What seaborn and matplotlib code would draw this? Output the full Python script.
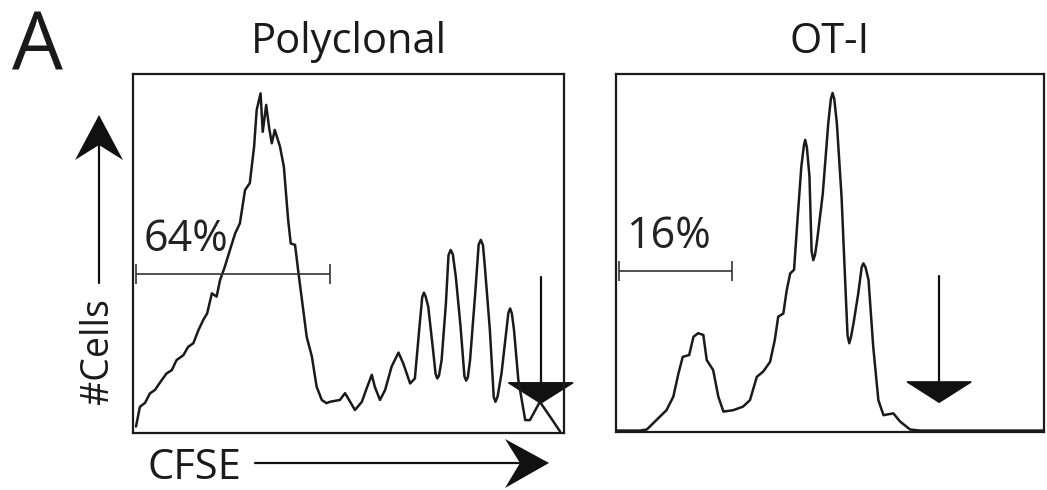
import pandas as pd
import seaborn as sns
import matplotlib.pyplot as plt
from matplotlib.patches import Polygon

# CFSE histograms (x = channel 0-100, y = relative count 0-100)
poly_x = [0.7, 1.6, 2.8, 3.9, 5.1, 6.7, 7.8, 9.0, 10.1, 11.7, 12.8, 14.0, 15.2, 16.3,
          17.2, 18.3, 19.4, 20.2, 21.3, 22.5, 23.7, 24.8, 26.0, 27.1, 28.1, 28.7, 29.6,
          30.1, 30.9, 31.6, 32.2, 32.9, 34.1, 35.0, 36.0, 36.6, 37.6, 38.4, 39.1, 40.3,
          41.5, 42.6, 43.8, 44.9, 45.7, 48.0, 49.2, 51.5, 53.1, 54.2, 55.4, 56.1, 57.3,
          58.5, 60.0, 61.6, 62.7, 64.3, 65.4, 66.4, 67.1, 67.5, 67.9, 68.5, 69.7, 70.2,
          70.6, 71.0, 71.6, 72.6, 73.2, 73.7, 74.2, 74.9, 76.0, 76.9, 77.3, 77.7, 78.2,
          79.4, 80.2, 80.7, 81.2, 81.7, 82.8, 83.7, 84.1, 84.6, 85.5, 87.1, 87.5, 87.9,
          88.4, 89.4, 91.0, 92.1, 94.4, 96.8, 99.1]
poly_y = [1.8, 7.3, 8.4, 11.0, 12.0, 14.8, 16.6, 17.5, 20.3, 21.7, 24.0, 25.0, 28.7, 31.5,
          33.3, 38.9, 38.0, 42.6, 46.3, 51.0, 55.6, 58.4, 67.7, 69.6, 79.8, 90.0, 94.6,
          83.9, 91.4, 84.9, 80.7, 84.4, 79.8, 74.2, 59.3, 52.8, 52.4, 44.5, 38.0, 26.8,
          21.3, 12.9, 9.2, 8.3, 8.7, 9.2, 11.1, 6.4, 8.7, 12.4, 16.2, 12.9, 9.2,
          12.0, 18.5, 22.4, 19.4, 13.8, 15.2, 28.7, 37.8, 39.1, 38.0, 35.2, 22.2, 16.5,
          15.2, 16.0, 20.3, 36.1, 49.5, 51.0, 49.8, 43.5, 29.6, 15.8, 14.6, 15.6, 20.3,
          38.9, 52.5, 53.8, 52.3, 45.4, 28.7, 10.0, 8.7, 10.2, 16.6, 33.5, 34.7, 33.3,
          28.7, 14.8, 3.6, 3.6, 8.7, 4.5, 0.4]

ot1_x = [0.0, 5.6, 7.2, 9.5, 11.8, 13.4, 14.6, 15.6, 17.1, 18.1, 19.2, 20.4, 21.2, 22.7,
         23.9, 25.1, 27.4, 29.7, 31.3, 32.9, 34.4, 36.0, 37.1, 37.9, 39.1, 39.9, 40.7,
         41.6, 42.4, 43.3, 43.9, 44.2, 44.6, 45.2, 45.7, 46.1, 46.5, 47.0, 48.3, 49.6,
         50.2, 50.6, 51.0, 51.6, 52.7, 53.7, 54.1, 54.5, 54.9, 55.5, 56.6, 57.4, 57.8,
         58.3, 59.0, 60.1, 61.3, 62.5, 64.8, 66.4, 68.7, 71.0, 100.0]
ot1_y = [0.4, 0.4, 0.7, 3.4, 6.1, 9.9, 16.4, 21.0, 21.5, 26.6, 27.6, 27.1, 20.1, 17.3,
         9.9, 5.7, 6.1, 7.1, 8.9, 15.4, 16.9, 19.6, 25.7, 32.2, 33.1, 39.7, 44.3,
         45.3, 59.2, 74.1, 80.0, 81.6, 79.5, 71.4, 50.5, 48.0, 49.5, 53.6, 66.4, 86.3,
         93.0, 94.7, 93.0, 86.3, 65.7, 37.8, 27.0, 24.8, 26.5, 30.4, 38.7, 46.0, 47.1,
         46.0, 42.5, 23.8, 8.9, 4.7, 5.2, 2.9, 0.7, 0.4, 0.4]

titles = ["Polyclonal", "OT-I"]
gate_labels = ["64%", "16%"]
gate_start = [0.8, 0.8]
gate_end = [45.6, 27.2]
gate_level = [44.4, 45.0]
marker_x = [94.6, 75.5]

sns.set_style("white")
plt.rcParams['font.family'] = ['Open Sans', 'DejaVu Sans']

W, H = 1047, 490
fig = plt.figure(figsize=(W / 100, H / 100), dpi=100)
ax1 = fig.add_axes([133 / W, 1 - 433 / H, 431 / W, 359 / H])
ax2 = fig.add_axes([616 / W, 1 - 432 / H, 428 / W, 358 / H])

curves = [pd.DataFrame({"CFSE": poly_x, "count": poly_y}),
          pd.DataFrame({"CFSE": ot1_x, "count": ot1_y})]

for i, ax in enumerate([ax1, ax2]):
    sns.lineplot(data=curves[i], x="CFSE", y="count", ax=ax, color="#1a1a1a",
                 linewidth=1.8, sort=False)
    ax.set_xlim(0, 100)
    ax.set_ylim(0, 100)
    ax.set_xticks([])
    ax.set_yticks([])
    ax.set_xlabel("")
    ax.set_ylabel("")
    for s in ax.spines.values():
        s.set_visible(True)
        s.set_color("#1a1a1a")
        s.set_linewidth(1.6)
    ax.set_title(titles[i], fontsize=30, pad=15, color="#1a1a1a")

    # gate bar
    ax.errorbar([(gate_start[i] + gate_end[i]) / 2], [gate_level[i]],
                xerr=[(gate_end[i] - gate_start[i]) / 2], color="#333333",
                elinewidth=1.2, capsize=7, capthick=1.2, fmt="none")
    ax.text(gate_start[i] + 1.6, gate_level[i] + 6.3, gate_labels[i], fontsize=31,
            color="#222222", ha="left", va="baseline")

    # downward marker arrow
    mx = marker_x[i]
    ax.plot([mx, mx], [43.5, 14.0], color="#111111", linewidth=1.6)
    tri = Polygon([[mx - 7.5, 14.0], [mx + 7.5, 14.0], [mx, 8.3]], closed=True,
                  facecolor="#111111", edgecolor="#111111", clip_on=False)
    ax.add_patch(tri)


def px(x, y):
    return (x / W, 1 - y / H)


# axis arrows outside the panels (swept arrowheads)
fig.add_artist(plt.Line2D([99 / W, 99 / W], [1 - 283 / H, 1 - 145 / H],
                          color="#111111", linewidth=1.6))
fig.add_artist(Polygon([px(99, 115), px(123, 160), px(99, 145), px(75, 160)],
                       closed=True, transform=fig.transFigure,
                       facecolor="#111111", edgecolor="none"))
fig.text(98 / W, 1 - 351 / H, "#Cells", rotation=90, fontsize=27, ha="center",
         va="center", color="#1a1a1a")

fig.add_artist(plt.Line2D([255 / W, 522 / W], [1 - 463 / H, 1 - 463 / H],
                          color="#111111", linewidth=1.6))
fig.add_artist(Polygon([px(549, 463), px(505, 439), px(520, 463), px(505, 488)],
                       closed=True, transform=fig.transFigure,
                       facecolor="#111111", edgecolor="none"))
fig.text(147 / W, 1 - 479 / H, "CFSE", fontsize=30, ha="left", va="baseline",
         color="#1a1a1a")

fig.text(12 / W, 1 - 70 / H, "A", fontsize=58, ha="left", va="baseline",
         color="#1a1a1a")

fig.savefig("out.png", dpi=100)
